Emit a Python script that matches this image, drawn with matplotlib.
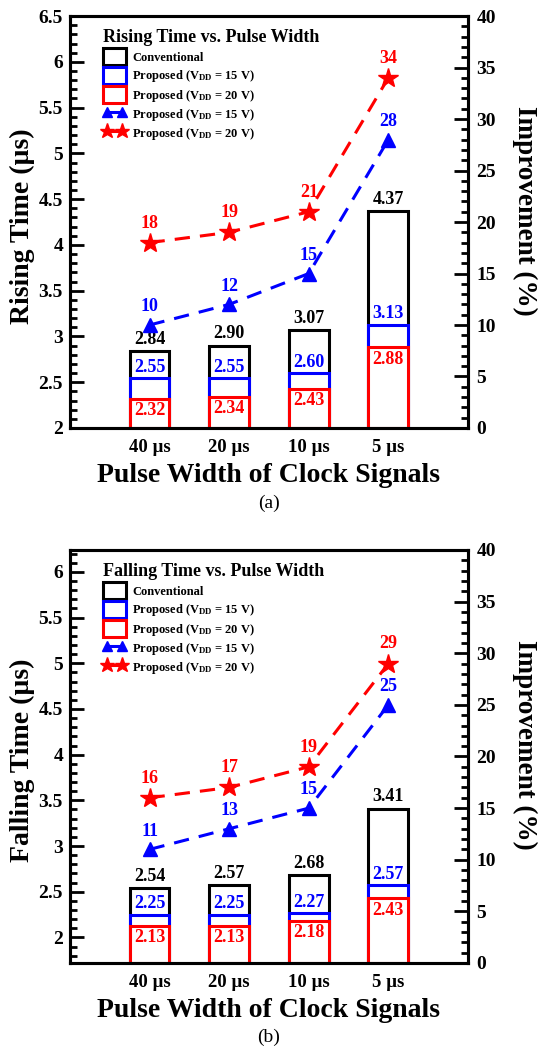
import matplotlib
matplotlib.use('Agg')
import matplotlib.pyplot as plt
from matplotlib.patches import Patch
from matplotlib.lines import Line2D
from matplotlib.ticker import MultipleLocator

plt.rcParams['font.family'] = ['Liberation Serif', 'DejaVu Serif']
plt.rcParams['font.weight'] = 'bold'
plt.rcParams['axes.labelweight'] = 'bold'
plt.rcParams['axes.linewidth'] = 2.2

widths = ['40 \u00b5s', '20 \u00b5s', '10 \u00b5s', '5 \u00b5s']

# rising time (us)
rise_conv = [2.84, 2.90, 3.07, 4.37]
rise_p15 = [2.55, 2.55, 2.60, 3.13]
rise_p20 = [2.32, 2.34, 2.43, 2.88]
rise_imp15 = [10, 12, 15, 28]
rise_imp20 = [18, 19, 21, 34]

# falling time (us)
fall_conv = [2.54, 2.57, 2.68, 3.41]
fall_p15 = [2.25, 2.25, 2.27, 2.57]
fall_p20 = [2.13, 2.13, 2.18, 2.43]
fall_imp15 = [11, 13, 15, 25]
fall_imp20 = [16, 17, 19, 29]

BLUE = '#0000ff'
RED = '#ff0000'
DASH = (5, 3.3)


def drawPanel(fig, rect, title, conv, p15, p20, imp15, imp20, ylim, ylabel, tag, tagY):
    ax = fig.add_axes(rect)
    ax2 = ax.twinx()
    x = list(range(1, len(widths) + 1))
    y0 = ylim[0]

    for vals, col in [(conv, 'black'), (p15, BLUE), (p20, RED)]:
        ax.bar(x, [v - y0 for v in vals], bottom=y0, width=0.5, color='white',
               edgecolor=col, linewidth=2.2)

    for xi, v in zip(x, conv):
        ax.annotate('%.2f' % v, (xi, v), xytext=(0, 2.5), textcoords='offset points',
                    ha='center', va='bottom', fontsize=13, color='black')
    for xi, v in zip(x, p15):
        ax.annotate('%.2f' % v, (xi, v), xytext=(0, 1.5), textcoords='offset points',
                    ha='center', va='bottom', fontsize=13, color=BLUE)
    for xi, v in zip(x, p20):
        ax.annotate('%.2f' % v, (xi, v), xytext=(0, -2.5), textcoords='offset points',
                    ha='center', va='top', fontsize=13, color=RED)

    ax.set_xlim(0, 5)
    ax.set_ylim(*ylim)
    ax.set_xticks(x)
    ax.set_xticklabels(widths, fontsize=13.5)
    ax.tick_params(axis='x', length=0, pad=8)
    ax.yaxis.set_major_locator(MultipleLocator(0.5))
    ax.yaxis.set_minor_locator(MultipleLocator(0.1))
    ax.yaxis.set_major_formatter(lambda v, p: '%g' % v)
    ax.tick_params(axis='y', which='major', direction='in', length=10, width=2, labelsize=14, pad=5)
    ax.tick_params(axis='y', which='minor', direction='in', length=5, width=2)
    ax.set_xlabel('Pulse Width of Clock Signals', fontsize=20, labelpad=5)
    ax.set_ylabel(ylabel, fontsize=20)
    ax.yaxis.set_label_coords(-0.088, 0.49)

    ax2.plot(x, imp15, color=BLUE, lw=2.2, dashes=DASH, marker='^', markersize=10)
    ax2.plot(x, imp20, color=RED, lw=2.2, dashes=DASH, marker='*', markersize=15)
    for xi, v in zip(x, imp15):
        ax2.annotate('%d' % v, (xi, v), xytext=(0, 7), textcoords='offset points',
                     ha='center', va='bottom', fontsize=13, color=BLUE)
    for xi, v in zip(x, imp20):
        ax2.annotate('%d' % v, (xi, v), xytext=(0, 8), textcoords='offset points',
                     ha='center', va='bottom', fontsize=13, color=RED)
    ax2.set_ylim(0, 40)
    ax2.yaxis.set_major_locator(MultipleLocator(5))
    ax2.yaxis.set_minor_locator(MultipleLocator(1))
    ax2.tick_params(axis='y', which='major', direction='in', length=10, width=2, labelsize=14, pad=6)
    ax2.tick_params(axis='y', which='minor', direction='in', length=5, width=2)
    ax2.set_ylabel('Improvement (%)', fontsize=19.5, rotation=270, va='bottom')
    ax2.yaxis.set_label_coords(1.11, 0.527)

    handles = [
        Patch(facecolor='white', edgecolor='black', linewidth=2.2),
        Patch(facecolor='white', edgecolor=BLUE, linewidth=2.2),
        Patch(facecolor='white', edgecolor=RED, linewidth=2.2),
        Line2D([], [], color=BLUE, lw=2.2, marker='^', markersize=10),
        Line2D([], [], color=RED, lw=2.2, marker='*', markersize=15),
    ]
    labels = [
        'Conventional',
        r'Proposed (V$\mathregular{_{DD}}$ = 15 V)',
        r'Proposed (V$\mathregular{_{DD}}$ = 20 V)',
        r'Proposed (V$\mathregular{_{DD}}$ = 15 V)',
        r'Proposed (V$\mathregular{_{DD}}$ = 20 V)',
    ]
    ax2.legend(handles, labels, loc='upper left', bbox_to_anchor=(0.083, 0.968),
               frameon=False, fontsize=9, title=title,
               title_fontproperties={'size': 13, 'weight': 'bold'},
               alignment='left', handlelength=1.8, handleheight=1.7,
               labelspacing=0.15, handletextpad=0.55, borderpad=0,
               borderaxespad=0, markerscale=0.75, numpoints=2)

    fig.text(rect[0] + rect[2] / 2, tagY, tag, ha='center', va='center',
             fontsize=14, fontweight='normal')
    return ax, ax2


fig = plt.figure(figsize=(5.4, 10.49), dpi=100)

drawPanel(fig, [0.1296, 0.592, 0.737, 0.3927], 'Rising Time vs. Pulse Width',
          rise_conv, rise_p15, rise_p20, rise_imp15, rise_imp20,
          (2, 6.5), 'Rising Time (\u00b5s)', '(a)', 1 - 503 / 1049)

drawPanel(fig, [0.1296, 0.082, 0.737, 0.3937], 'Falling Time vs. Pulse Width',
          fall_conv, fall_p15, fall_p20, fall_imp15, fall_imp20,
          (1.72, 6.24), 'Falling Time (\u00b5s)', '(b)', 1 - 1037 / 1049)

fig.savefig('out.png', dpi=100)
